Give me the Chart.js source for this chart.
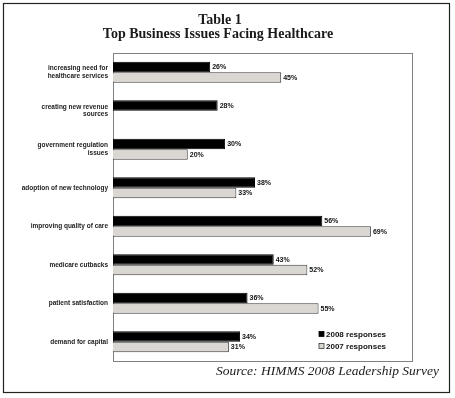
<!DOCTYPE html>
<html>
<head>
<meta charset="utf-8">
<script src="https://cdn.jsdelivr.net/npm/chart.js@4/dist/chart.umd.min.js"></script>
<style>
  body { margin: 0; background: #fff; }
  canvas { display: block; }
</style>
</head>
<body>
<canvas id="issuesChart" width="455" height="398"></canvas>
<script>
// categories and survey results (% of respondents)
const issues = [
    ['increasing need for', 'healthcare services'],
    ['creating new revenue', 'sources'],
    ['government regulation', 'issues'],
    'adoption of new technology',
    'improving quality of care',
    'medicare cutbacks',
    'patient satisfaction',
    'demand for capital'
];
const responses2008 = [26, 28, 30, 38, 56, 43, 36, 34];
const responses2007 = [45, null, 20, 33, 69, 52, 55, 31];
const xMax = 80;

const labelFont = 'bold 7px "Liberation Sans", Arial, sans-serif';

// frame, titles, plot box, value labels and legend
const decorations = {
    id: 'decorations',
    beforeDatasetsDraw(chart) {
        const ctx = chart.ctx;
        const a = chart.chartArea;
        ctx.save();
        ctx.strokeStyle = '#808080';
        ctx.lineWidth = 1;
        ctx.strokeRect(a.left + 0.5, a.top + 0.5, a.right - a.left, a.bottom - a.top);
        ctx.restore();
    },
    afterDatasetsDraw(chart) {
        const ctx = chart.ctx;
        ctx.save();

        // value labels
        ctx.font = labelFont;
        ctx.fillStyle = '#111';
        ctx.textBaseline = 'middle';
        ctx.textAlign = 'left';
        chart.data.datasets.forEach((ds, i) => {
            chart.getDatasetMeta(i).data.forEach((bar, j) => {
                const v = ds.data[j];
                if (v === null) return;
                ctx.fillText(v + '%', bar.x + 2, bar.y + 0.5);
            });
        });

        // legend inside plot, bottom right
        ctx.font = 'bold 8px "Liberation Sans", Arial, sans-serif';
        chart.data.datasets.forEach((ds, i) => {
            const y = 334 + i * 12;
            ctx.fillStyle = ds.backgroundColor;
            ctx.fillRect(319, y - 2.5, 5, 5);
            ctx.strokeStyle = ds.borderColor;
            ctx.lineWidth = 0.8;
            ctx.strokeRect(319, y - 2.5, 5, 5);
            ctx.fillStyle = '#111';
            ctx.fillText(ds.label, 326, y + 0.5);
        });

        // titles
        ctx.fillStyle = '#1a1a1a';
        ctx.textAlign = 'center';
        ctx.textBaseline = 'alphabetic';
        ctx.font = 'bold 14px "Liberation Serif", "DejaVu Serif", serif';
        ctx.fillText('Table 1', 220, 24);
        ctx.fillText('Top Business Issues Facing Healthcare', 218, 38);

        ctx.textAlign = 'right';
        ctx.font = 'italic 13.5px "Liberation Serif", "DejaVu Serif", serif';
        ctx.fillText('Source: HIMMS 2008 Leadership Survey', 439, 375);

        // outer frame
        ctx.strokeStyle = '#222';
        ctx.lineWidth = 1.2;
        ctx.strokeRect(3.5, 3.5, 446, 389);
        ctx.restore();
    }
};

const ctxIssues = document.getElementById('issuesChart').getContext('2d');
const issuesChart = new Chart(ctxIssues, {
    type: 'bar',
    data: {
        labels: issues,
        datasets: [{
            label: '2008 responses',
            data: responses2008,
            backgroundColor: '#000000',
            borderColor: '#000000',
            borderWidth: 1
        }, {
            label: '2007 responses',
            data: responses2007,
            backgroundColor: '#dad6d2',
            borderColor: '#3a3a3a',
            borderWidth: 1
        }]
    },
    options: {
        indexAxis: 'y',
        responsive: false,
        animation: false,
        layout: {
            padding: { top: 53, right: 43, bottom: 37, left: 0 }
        },
        datasets: {
            bar: { categoryPercentage: 0.55, barPercentage: 1.0, skipNull: false }
        },
        plugins: {
            legend: { display: false },
            title: { display: false },
            tooltip: { enabled: false }
        },
        scales: {
            x: {
                display: false,
                min: 0,
                max: xMax
            },
            y: {
                afterFit(scale) { scale.width = 113; },
                grid: { display: false, drawTicks: false },
                border: { display: true, color: '#555', width: 1 },
                ticks: {
                    padding: 5,
                    color: '#222',
                    font: { family: '"Liberation Sans", Arial, sans-serif', size: 6.5, weight: 'bold', lineHeight: 1.15 }
                }
            }
        }
    },
    plugins: [decorations]
});
</script>
</body>
</html>
